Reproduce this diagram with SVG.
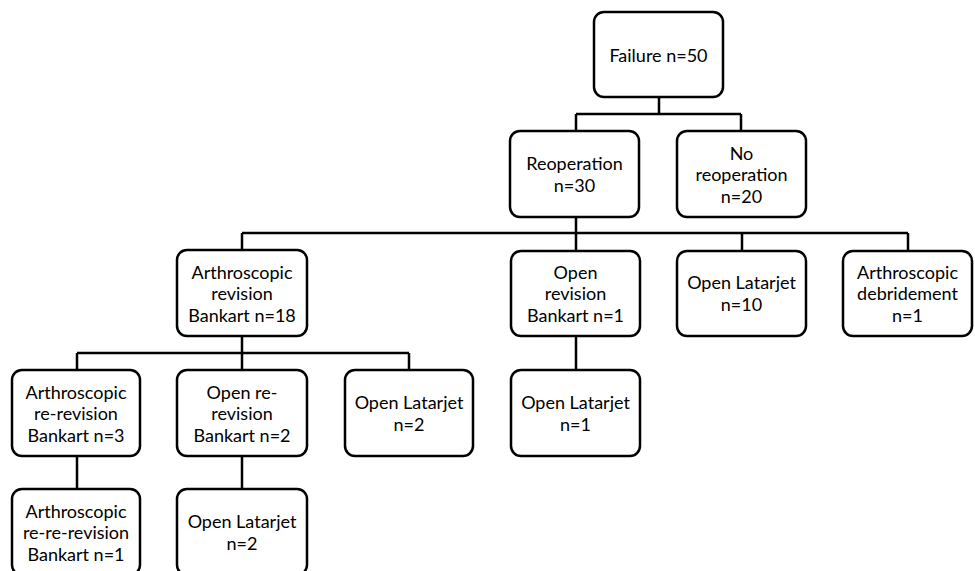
<svg xmlns="http://www.w3.org/2000/svg" width="975" height="571" viewBox="0 0 975 571">
<style>
.box{fill:#fff;stroke:#000;stroke-width:2.5}
.ln{fill:none;stroke:#000;stroke-width:2.5}
text{font-family:"Lato","Liberation Sans",sans-serif;font-size:18px;fill:#000;text-anchor:middle;dominant-baseline:central}
</style>
<rect width="975" height="571" fill="#fff"/>
<g id="connectors">
<path class="ln" d="M659 97V114M576 114H741M576 114V131M741 114V131"/>
<path class="ln" d="M576 217V233M242 233H908M242 233V250M576 233V251M742 233V251M908 233V251"/>
<path class="ln" d="M242 336V353M77 353H409M77 353V370M242 353V370M409 353V370"/>
<path class="ln" d="M576 336V370"/>
<path class="ln" d="M77 456V489M242 456V489"/>
</g>
<g id="n_failure"><rect class="box" x="594" y="12" width="129" height="85" rx="10"/><text x="658.5" y="54.5">Failure n=50</text></g>
<g id="n_reop"><rect class="box" x="510" y="131" width="129" height="86" rx="10"/><text x="574.5" y="174"><tspan x="574.5" dy="-10.75">Reoperation</tspan><tspan x="574.5" dy="21.5">n=30</tspan></text></g>
<g id="n_noreop"><rect class="box" x="677" y="131" width="129" height="86" rx="10"/><text x="741.5" y="174"><tspan x="741.5" dy="-21.5">No</tspan><tspan x="741.5" dy="21.5">reoperation</tspan><tspan x="741.5" dy="21.5">n=20</tspan></text></g>
<g id="n_arthrev"><rect class="box" x="177" y="250" width="130" height="86" rx="10"/><text x="242" y="293"><tspan x="242" dy="-21.5">Arthroscopic</tspan><tspan x="242" dy="21.5">revision</tspan><tspan x="242" dy="21.5">Bankart n=18</tspan></text></g>
<g id="n_openrev"><rect class="box" x="511" y="251" width="129" height="85" rx="10"/><text x="575.5" y="293"><tspan x="575.5" dy="-21.5">Open</tspan><tspan x="575.5" dy="21.5">revision</tspan><tspan x="575.5" dy="21.5">Bankart n=1</tspan></text></g>
<g id="n_latarjet10"><rect class="box" x="677" y="251" width="129" height="85" rx="10"/><text x="741.5" y="293"><tspan x="741.5" dy="-10.75">Open Latarjet</tspan><tspan x="741.5" dy="21.5">n=10</tspan></text></g>
<g id="n_debride"><rect class="box" x="843" y="251" width="129" height="85" rx="10"/><text x="907.5" y="293"><tspan x="907.5" dy="-21.5">Arthroscopic</tspan><tspan x="907.5" dy="21.5">debridement</tspan><tspan x="907.5" dy="21.5">n=1</tspan></text></g>
<g id="n_arthrerev"><rect class="box" x="12" y="370" width="128" height="86" rx="10"/><text x="76" y="413"><tspan x="76" dy="-21.5">Arthroscopic</tspan><tspan x="76" dy="21.5">re-revision</tspan><tspan x="76" dy="21.5">Bankart n=3</tspan></text></g>
<g id="n_openrerev"><rect class="box" x="177" y="370" width="130" height="86" rx="10"/><text x="242" y="413"><tspan x="242" dy="-21.5">Open re-</tspan><tspan x="242" dy="21.5">revision</tspan><tspan x="242" dy="21.5">Bankart n=2</tspan></text></g>
<g id="n_latarjet2a"><rect class="box" x="345" y="370" width="128" height="86" rx="10"/><text x="409" y="413"><tspan x="409" dy="-10.75">Open Latarjet</tspan><tspan x="409" dy="21.5">n=2</tspan></text></g>
<g id="n_latarjet1"><rect class="box" x="511" y="370" width="129" height="86" rx="10"/><text x="575.5" y="413"><tspan x="575.5" dy="-10.75">Open Latarjet</tspan><tspan x="575.5" dy="21.5">n=1</tspan></text></g>
<g id="n_arthrerere"><rect class="box" x="12" y="489" width="128" height="86" rx="10"/><text x="76" y="532"><tspan x="76" dy="-21.5">Arthroscopic</tspan><tspan x="76" dy="21.5">re-re-revision</tspan><tspan x="76" dy="21.5">Bankart n=1</tspan></text></g>
<g id="n_latarjet2b"><rect class="box" x="177" y="489" width="130" height="86" rx="10"/><text x="242" y="532"><tspan x="242" dy="-10.75">Open Latarjet</tspan><tspan x="242" dy="21.5">n=2</tspan></text></g>
</svg>
